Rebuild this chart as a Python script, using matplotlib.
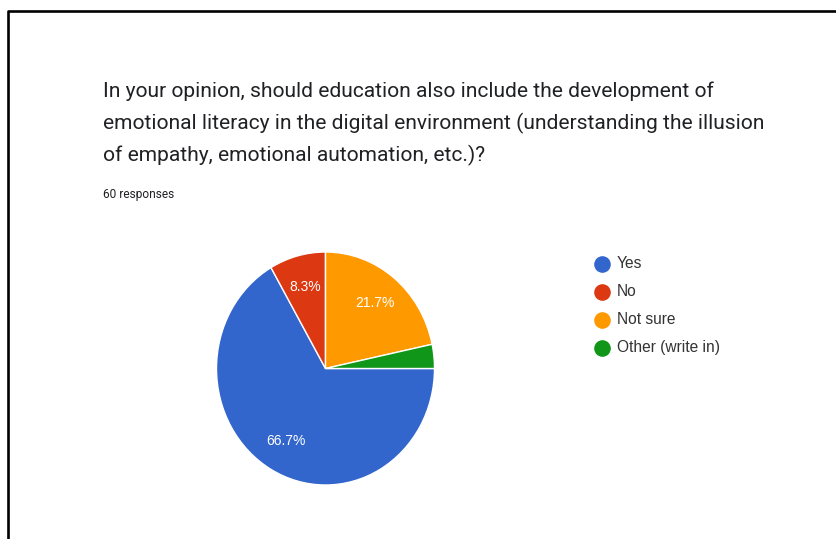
import matplotlib.pyplot as plt

# survey answers, 60 responses
labels = ['Yes', 'No', 'Not sure', 'Other (write in)']
counts = [40, 5, 13, 2]
colors = ['#3366CC', '#DC3912', '#FF9900', '#109618']

title_lines = [
    'In your opinion, should education also include the development of',
    'emotional literacy in the digital environment (understanding the illusion',
    'of empathy, emotional automation, etc.)?',
]
subtitle = '60 responses'

W, H = 836, 539
fig = plt.figure(figsize=(W / 100, H / 100), dpi=100)

# overlay in pixel coords for frame, text and legend
ov = fig.add_axes([0, 0, 1, 1])
ov.set_xlim(0, W)
ov.set_ylim(H, 0)
ov.axis('off')

ov.plot([7.5, 7.5, W], [H, 10.5, 10.5], color='black', lw=1.9, solid_capstyle='butt')

for i, line in enumerate(title_lines):
    ov.text(103, 97 + 32 * i, line, fontsize=15.1, family='Roboto', color='#202124', va='baseline')
ov.text(103, 198, subtitle, fontsize=8.6, family='Roboto', color='#202124', va='baseline')

# legend
for i, (lab, col) in enumerate(zip(labels, colors)):
    y = 263.5 + 28 * i
    ov.scatter([602], [y], s=120, color=col, zorder=3)
    ov.text(617, y, lab, fontsize=11.2, family='Liberation Sans', color='#333333', va='center')

# pie (source screenshot is slightly stretched vertically)
cx, cy, rx, ry = 325.5, 368.5, 109, 116.5
ax = fig.add_axes([(cx - rx) / W, (H - cy - ry) / H, 2 * rx / W, 2 * ry / H])


def pct(p):
    return f'{p:.1f}%' if p > 5 else ''


wedges, texts, autotexts = ax.pie(
    counts, colors=colors, startangle=0, counterclock=False,
    autopct=pct, pctdistance=0.72, radius=1,
    wedgeprops=dict(edgecolor='white', linewidth=1),
    textprops=dict(color='white', fontsize=10, family='Liberation Sans'),
)
ax.set_xlim(-1, 1)
ax.set_ylim(-1, 1)
ax.set_aspect('auto')

fig.savefig('out.png', dpi=100)
